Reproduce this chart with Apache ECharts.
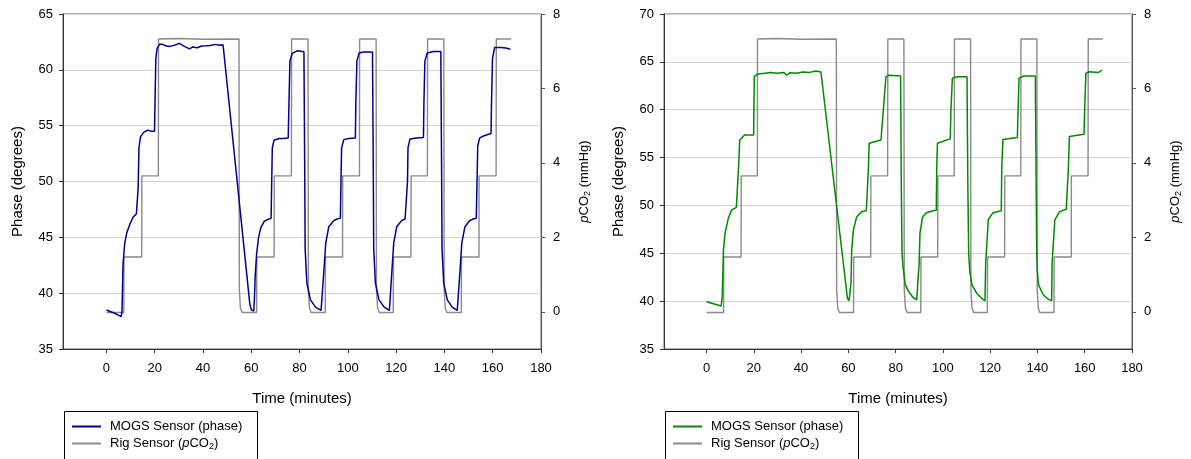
<!DOCTYPE html>
<html>
<head>
<meta charset="utf-8">
<script src="https://cdn.jsdelivr.net/npm/echarts@6/dist/echarts.min.js"></script>
<style>
html,body{margin:0;padding:0;background:#fff;}
#c1{position:absolute;left:0;top:0;width:600px;height:459px;}
#c2{position:absolute;left:601px;top:0;width:590px;height:459px;}
</style>
</head>
<body>
<div id="c1"></div>
<div id="c2"></div>
<script>
// ---- data ----
const timeTicks = [0, 20, 40, 60, 80, 100, 120, 140, 160, 180];
const pco2Ticks = [0, 2, 4, 6, 8];
const seriesNames = ['MOGS Sensor (phase)', 'Rig Sensor (pCO2)'];

// Rig sensor pCO2 (mmHg) vs time (minutes)
const rigPco2 = [
  [0,-0.02],[7.2,-0.02],[7.26,1.47],[14.6,1.47],[14.68,3.65],[21.5,3.65],[21.57,7.33],
  [30,7.34],[40,7.32],[54.9,7.33],[55.05,0.6],[55.5,0.1],[56.2,-0.02],
  [62.2,-0.02],[62.27,1.47],[69.45,1.47],[69.53,3.65],[76.6,3.65],[76.7,7.33],[83.5,7.33],[83.65,0.6],[84.1,0.1],[84.8,-0.02],
  [90.65,-0.02],[90.72,1.47],[97.8,1.47],[97.86,3.65],[104.8,3.65],[104.86,7.33],[111.7,7.33],[111.85,0.6],[112.3,0.1],[113.0,-0.02],
  [118.8,-0.02],[118.89,1.47],[126.1,1.47],[126.19,3.65],[132.95,3.65],[133.03,7.33],[139.75,7.33],[139.9,0.6],[140.35,0.1],[141.0,-0.02],
  [147.0,-0.02],[147.05,1.47],[154.3,1.47],[154.35,3.65],[161.4,3.65],[161.49,7.33],[167.67,7.33]
];

// MOGS phase (degrees), left panel
const mogsPhaseLeft = [
  [0,38.49],[3.4,38.2],[6.1,37.9],[6.45,38.4],[6.85,42.5],[7.3,43.8],[7.6,44.5],[8.4,45.4],[9.6,46.1],[11.0,46.8],[12.4,47.1],[12.95,47.1],
  [13.15,49.5],[13.45,53.0],[14.1,54.0],[15.4,54.4],[17.0,54.6],[18.7,54.5],[19.9,54.5],
  [20.1,57.0],[20.45,61.0],[20.95,61.9],[22.0,62.3],[23.2,62.3],[24.5,62.15],[26.1,62.1],[28.2,62.2],[30.2,62.37],[32.3,62.1],[34.4,61.87],
  [35.8,62.05],[37.5,61.98],[39.5,62.13],[41.2,62.15],[43.0,62.18],[45.2,62.28],[46.7,62.2],[48.3,62.25],
  [59.4,39.0],[60.0,38.5],[61.0,38.4],[61.3,39.5],[61.6,41.5],[62.2,43.5],[63.0,45.0],[64.0,45.9],[65.3,46.4],[66.7,46.6],[68.2,46.7],
  [68.45,50.0],[68.7,53.0],[69.4,53.7],[71.5,53.85],[73.5,53.85],[75.3,53.9],
  [75.6,57.0],[76.0,60.8],[77.0,61.48],[79.0,61.7],[81.8,61.62],
  [82.1,52.0],[82.3,44.0],[83.0,40.9],[84.5,39.4],[86.6,38.75],[88.9,38.45],[89.6,38.4],
  [89.9,41.5],[90.85,44.5],[92.1,45.95],[94.2,46.5],[95.5,46.64],[96.9,46.7],
  [97.15,50.0],[97.4,53.0],[98.3,53.75],[100.3,53.85],[103.1,53.9],
  [103.3,57.0],[103.75,60.8],[104.65,61.5],[106.5,61.6],[110.2,61.6],
  [110.5,52.0],[110.7,44.0],[111.4,40.9],[112.9,39.4],[115.05,38.75],[117.2,38.45],[117.8,38.4],
  [118.1,41.5],[119.0,44.5],[120.25,45.95],[122.3,46.5],[123.7,46.64],[124.4,46.7],
  [124.7,50.0],[124.9,53.0],[125.7,53.8],[128.4,53.9],[131.3,53.95],
  [131.5,57.0],[131.9,60.8],[132.9,61.5],[135.4,61.65],[138.5,61.65],
  [138.8,52.0],[139.0,44.0],[139.7,40.9],[141.2,39.4],[143.2,38.75],[145.3,38.45],[146.0,38.4],
  [146.3,41.5],[147.2,44.5],[148.5,45.95],[150.5,46.5],[151.9,46.64],[153.2,46.7],
  [153.5,50.0],[153.8,53.2],[154.6,53.9],[156.4,54.1],[159.3,54.3],
  [159.5,57.0],[159.9,61.0],[160.8,62.0],[163.4,62.0],[165.5,61.95],[167.3,61.84]
];

// MOGS phase (degrees), right panel
const mogsPhaseRight = [
  [0,39.94],[6.19,39.49],[6.64,40.5],[7.13,45.3],[7.84,47.1],[9.2,48.65],[10.56,49.5],[12.62,49.8],[13.32,49.8],
  [13.65,54.5],[14.02,56.8],[16.08,57.36],[19.92,57.36],
  [20.08,61.0],[20.2,63.45],[20.87,63.6],[21.57,63.73],[24.5,63.8],[27.05,63.9],[29.8,63.8],[32.6,63.9],[33.9,63.6],[35.3,63.87],
  [38.06,63.8],[40.8,63.94],[43.5,63.9],[46.3,64.04],[48.4,63.94],
  [59.6,40.3],[60.3,40.05],[60.9,40.0],[61.15,42.0],[61.4,45.3],[62.1,47.4],[63.5,48.8],[65.6,49.35],[67.6,49.45],[68.3,49.5],
  [68.5,54.0],[68.8,56.5],[73.8,56.83],[74.5,56.85],
  [74.8,60.0],[75.9,63.45],[77.2,63.6],[82.1,63.52],
  [82.4,52.0],[82.7,45.0],[83.1,43.6],[84.1,41.7],[85.5,41.0],[87.3,40.4],[88.9,40.12],[89.6,40.1],
  [89.95,44.0],[90.3,47.1],[91.4,48.8],[93.0,49.24],[95.8,49.45],[97.2,49.5],
  [97.4,54.0],[97.7,56.5],[103.1,56.95],
  [103.4,60.0],[104.0,63.28],[106.1,63.45],[110.2,63.45],
  [110.55,52.0],[110.9,45.0],[111.4,43.0],[112.3,41.7],[114.35,40.8],[116.4,40.3],[117.8,40.05],
  [118.1,44.0],[119.2,48.5],[121.2,49.24],[124.7,49.45],
  [124.9,54.0],[125.4,56.9],[131.5,57.1],
  [131.8,60.0],[132.2,63.3],[134.3,63.52],[139.1,63.52],
  [139.45,52.0],[139.7,45.0],[140.0,43.0],[140.45,41.7],[142.5,40.64],[144.6,40.2],[146.0,40.05],
  [146.2,44.0],[147.35,48.5],[149.4,49.35],[152.2,49.6],[152.8,49.6],
  [153.1,54.0],[153.5,57.2],[159.7,57.43],
  [160.1,61.0],[160.5,63.8],[161.8,63.97],[165.9,63.9],[166.7,64.0],[167.3,64.15]
];

// ---- drawing ----
const FONT = 'Liberation Sans, Arial, sans-serif';
const richSub = {
  i: { fontStyle: 'italic', fontSize: 13, fontFamily: FONT, color: '#000' },
  n: { fontSize: 13, fontFamily: FONT, color: '#000' },
  sub: { fontSize: 9, fontFamily: FONT, color: '#000', verticalAlign: 'bottom', padding: [6, 0, 0, 0] }
};

function build(dom, phaseData, color, yMin, yMax, gridLeft, gridRight) {
  const chart = echarts.init(dom, null, { renderer: 'canvas' });
  chart.setOption({
    animation: false,
    backgroundColor: '#fff',
    textStyle: { fontFamily: FONT },
    grid: { left: gridLeft, right: gridRight, top: 14, bottom: 110, show: true, borderColor: '#666', borderWidth: 1, containLabel: false },
    graphic: [{
      type: 'rect', left: 62, top: 409,
      shape: { x: 0, y: 0, width: 193, height: 80 },
      style: { fill: 'none', stroke: '#000', lineWidth: 1 }, silent: true
    }],
    legend: {
      orient: 'vertical', left: 72, top: 420, height: 39, padding: 0,
      itemWidth: 29, itemHeight: 2, itemGap: 4, icon: 'rect',
      data: seriesNames,
      formatter: function (n) {
        return n === seriesNames[1] ? '{n|Rig Sensor (}{i|p}{n|CO}{sub|2}{n|)}' : '{n|' + n + '}';
      },
      textStyle: { fontSize: 13, fontFamily: FONT, color: '#000', padding: [0, 0, 0, 4], rich: richSub }
    },
    xAxis: {
      type: 'value', min: -18, max: 180,
      name: 'Time (minutes)', nameLocation: 'middle', nameGap: 42,
      nameTextStyle: { fontSize: 15, fontFamily: FONT, color: '#000' },
      axisLine: { onZero: false, lineStyle: { color: '#333', width: 1 } },
      axisTick: { show: true, length: 4, customValues: timeTicks, lineStyle: { color: '#333' } },
      axisLabel: { customValues: timeTicks, fontSize: 13, color: '#000', margin: 13 },
      splitLine: { show: false }
    },
    yAxis: [{
      type: 'value', min: yMin, max: yMax, interval: 5,
      name: 'Phase (degrees)', nameLocation: 'middle', nameGap: 38,
      nameTextStyle: { fontSize: 15, fontFamily: FONT, color: '#000' },
      axisLine: { show: true, onZero: false, lineStyle: { color: '#333', width: 1 } },
      axisTick: { show: true, length: 4, lineStyle: { color: '#333' } },
      axisLabel: { fontSize: 13, color: '#000', margin: 10 },
      splitLine: { show: true, lineStyle: { color: '#d4d4d4', width: 1 } }
    }, {
      type: 'value', min: -1, max: 8, position: 'right',
      name: '{i|p}{n|CO}{sub|2}{n| (mmHg)}', nameLocation: 'middle', nameGap: 36, nameRotate: 90,
      nameTextStyle: { fontSize: 13, fontFamily: FONT, color: '#000', rich: richSub },
      axisLine: { show: true, onZero: false, lineStyle: { color: '#555', width: 1 } },
      axisTick: { show: true, length: 4, customValues: pco2Ticks, lineStyle: { color: '#555' } },
      axisLabel: { customValues: pco2Ticks, fontSize: 13, color: '#000', margin: 12 },
      splitLine: { show: false }
    }],
    series: [{
      name: seriesNames[1], type: 'line', yAxisIndex: 1, data: rigPco2,
      showSymbol: false, color: '#8a8a8a', lineStyle: { color: '#8a8a8a', width: 1.4 }, z: 2
    }, {
      name: seriesNames[0], type: 'line', yAxisIndex: 0, data: phaseData,
      showSymbol: false, color: color, lineStyle: { color: color, width: 1.5 }, z: 3
    }]
  });
}

build(document.getElementById('c1'), mogsPhaseLeft, '#000090', 35, 65, 63, 57);
build(document.getElementById('c2'), mogsPhaseRight, '#008a00', 35, 70, 63, 46);
</script>
</body>
</html>
